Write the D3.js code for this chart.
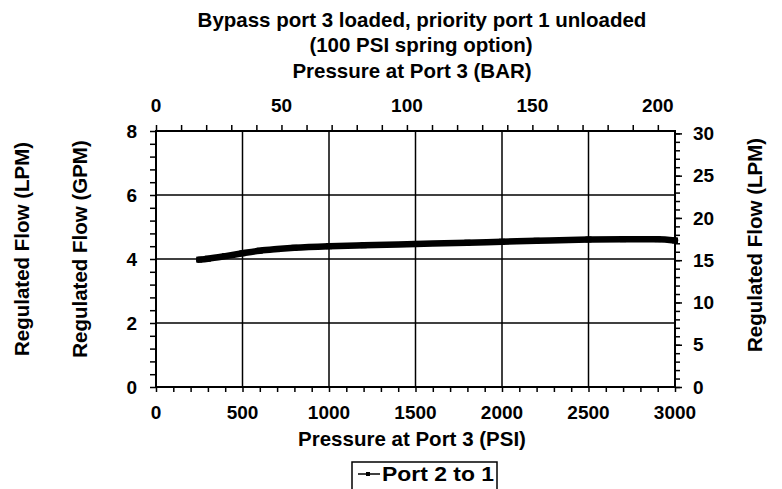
<!DOCTYPE html>
<html>
<head>
<meta charset="utf-8">
<script src="https://cdn.jsdelivr.net/npm/d3@7"></script>
<style>
  html, body { margin: 0; padding: 0; background: #fff; }
  svg { display: block; }
  text { font-family: "Liberation Sans", Arial, sans-serif; font-weight: bold; fill: #000; }
</style>
</head>
<body>
<svg id="chart" width="782" height="489"></svg>
<script>
// ---- data ----
const pressurePsi = [250, 300, 400, 500, 600, 700, 800, 1000, 1200, 1500, 1800, 2000, 2200, 2500, 2700, 2900, 3000];
const flowGpm     = [3.98, 4.01, 4.09, 4.18, 4.26, 4.31, 4.35, 4.40, 4.43, 4.47, 4.51, 4.54, 4.57, 4.61, 4.62, 4.62, 4.58];
const seriesName = "Port 2 to 1";
const psiTicks = [0, 500, 1000, 1500, 2000, 2500, 3000];
const barTicks = [0, 50, 100, 150, 200];
const gpmTicks = [0, 2, 4, 6, 8];
const lpmTicks = [0, 5, 10, 15, 20, 25, 30];
const titleLines = ["Bypass port 3 loaded, priority port 1 unloaded", "(100 PSI spring option)"];
const PSI_PER_BAR = 14.5038;
const LPM_PER_GPM = 3.78541;

// ---- layout ----
const svg = d3.select("#chart");
const L = 156, R = 675, T = 131, B = 387;

const x = d3.scaleLinear().domain([0, 3000]).range([L, R]);
const xBar = d3.scaleLinear().domain([0, 3000 / PSI_PER_BAR]).range([L, R]);
const y = d3.scaleLinear().domain([0, 8]).range([B, T]);
const yLpm = d3.scaleLinear().domain([0, 8 * LPM_PER_GPM]).range([B, T]);

// titles
svg.append("text").attr("x", 422).attr("y", 27).attr("text-anchor", "middle")
  .style("font-size", "20.5px").text(titleLines[0]);
svg.append("text").attr("x", 421).attr("y", 52).attr("text-anchor", "middle")
  .style("font-size", "20.5px").text(titleLines[1]);
svg.append("text").attr("x", 412).attr("y", 78).attr("text-anchor", "middle")
  .style("font-size", "20.5px").text("Pressure at Port 3 (BAR)");

// grid
const g = svg.append("g");
g.selectAll("line.vg").data(psiTicks.slice(1, -1)).join("line")
  .attr("x1", d => x(d)).attr("x2", d => x(d)).attr("y1", T).attr("y2", B)
  .attr("stroke", "#000").attr("stroke-width", 1.5);
g.selectAll("line.hg").data(gpmTicks.slice(1, -1)).join("line")
  .attr("y1", d => y(d)).attr("y2", d => y(d)).attr("x1", L).attr("x2", R)
  .attr("stroke", "#000").attr("stroke-width", 1.5);

// axes
function styleAxis(sel) {
  sel.select(".domain").remove();
  sel.selectAll("line").attr("stroke", "#000").attr("stroke-width", 1.5);
  sel.selectAll("text").remove();
}
svg.append("g").attr("transform", `translate(0,${B})`)
  .call(d3.axisBottom(x).tickValues(d3.range(0, 3001, 100)).tickSize(5)).call(styleAxis);
svg.append("g").attr("transform", `translate(0,${T})`)
  .call(d3.axisTop(xBar).tickValues(d3.range(0, 201, 10)).tickSize(6)).call(styleAxis);
svg.append("g").attr("transform", `translate(${L},0)`)
  .call(d3.axisLeft(y).tickValues(d3.range(0, 8.01, 0.4)).tickSize(6)).call(styleAxis);
svg.append("g").attr("transform", `translate(${R},0)`)
  .call(d3.axisRight(yLpm).tickValues(d3.range(0, 31, 1)).tickSize(5)).call(styleAxis);
svg.append("g").attr("transform", `translate(${R},0)`)
  .call(d3.axisRight(yLpm).tickValues(lpmTicks).tickSize(7)).call(styleAxis);

// tick labels
const fs = "19px";
svg.append("g").selectAll("text").data(psiTicks).join("text")
  .attr("x", d => x(d)).attr("y", 419).attr("text-anchor", "middle").style("font-size", fs).text(d => d);
svg.append("g").selectAll("text").data(barTicks).join("text")
  .attr("x", d => xBar(d)).attr("y", 112).attr("text-anchor", "middle").style("font-size", fs).text(d => d);
svg.append("g").selectAll("text").data(gpmTicks).join("text")
  .attr("x", 137).attr("y", d => y(d)).attr("dy", "0.35em").attr("text-anchor", "end").style("font-size", fs).text(d => d);
svg.append("g").selectAll("text").data(lpmTicks).join("text")
  .attr("x", 693).attr("y", d => yLpm(d)).attr("dy", "0.35em").attr("text-anchor", "start").style("font-size", fs).text(d => d);

// axis titles
svg.append("text").attr("x", 412).attr("y", 446).attr("text-anchor", "middle")
  .style("font-size", "20.5px").text("Pressure at Port 3 (PSI)");
svg.append("text").attr("transform", "translate(29,249) rotate(-90)").attr("text-anchor", "middle")
  .style("font-size", "20.5px").text("Regulated Flow (LPM)");
svg.append("text").attr("transform", "translate(87,249) rotate(-90)").attr("text-anchor", "middle")
  .style("font-size", "20.5px").text("Regulated Flow (GPM)");
svg.append("text").attr("transform", "translate(762,245) rotate(-90)").attr("text-anchor", "middle")
  .style("font-size", "20.5px").text("Regulated Flow (LPM)");

// plot border
svg.append("rect").attr("x", L).attr("y", T).attr("width", R - L).attr("height", B - T)
  .attr("fill", "none").attr("stroke", "#000").attr("stroke-width", 2);

// data line
const pts = pressurePsi.map((p, i) => [p, flowGpm[i]]);
const line = d3.line().x(d => x(d[0])).y(d => y(d[1])).curve(d3.curveMonotoneX);
svg.append("path").datum(pts).attr("d", line)
  .attr("fill", "none").attr("stroke", "#000").attr("stroke-width", 6.5)
  .attr("stroke-linecap", "round").attr("stroke-linejoin", "round");
svg.append("g").selectAll("rect").data(pts).join("rect")
  .attr("x", d => x(d[0]) - 3).attr("y", d => y(d[1]) - 3).attr("width", 6).attr("height", 6).attr("fill", "#000");

// legend
const lg = svg.append("g");
lg.append("rect").attr("x", 352).attr("y", 462).attr("width", 145).attr("height", 40)
  .attr("fill", "#fff").attr("stroke", "#000").attr("stroke-width", 1.5);
lg.append("line").attr("x1", 358).attr("x2", 380).attr("y1", 474).attr("y2", 474)
  .attr("stroke", "#000").attr("stroke-width", 1.5);
lg.append("rect").attr("x", 366).attr("y", 472).attr("width", 4).attr("height", 4).attr("fill", "#000");
lg.append("text").attr("x", 382).attr("y", 481).style("font-size", "20.5px")
  .attr("textLength", 112).attr("lengthAdjust", "spacingAndGlyphs").text(seriesName);
</script>
</body>
</html>
